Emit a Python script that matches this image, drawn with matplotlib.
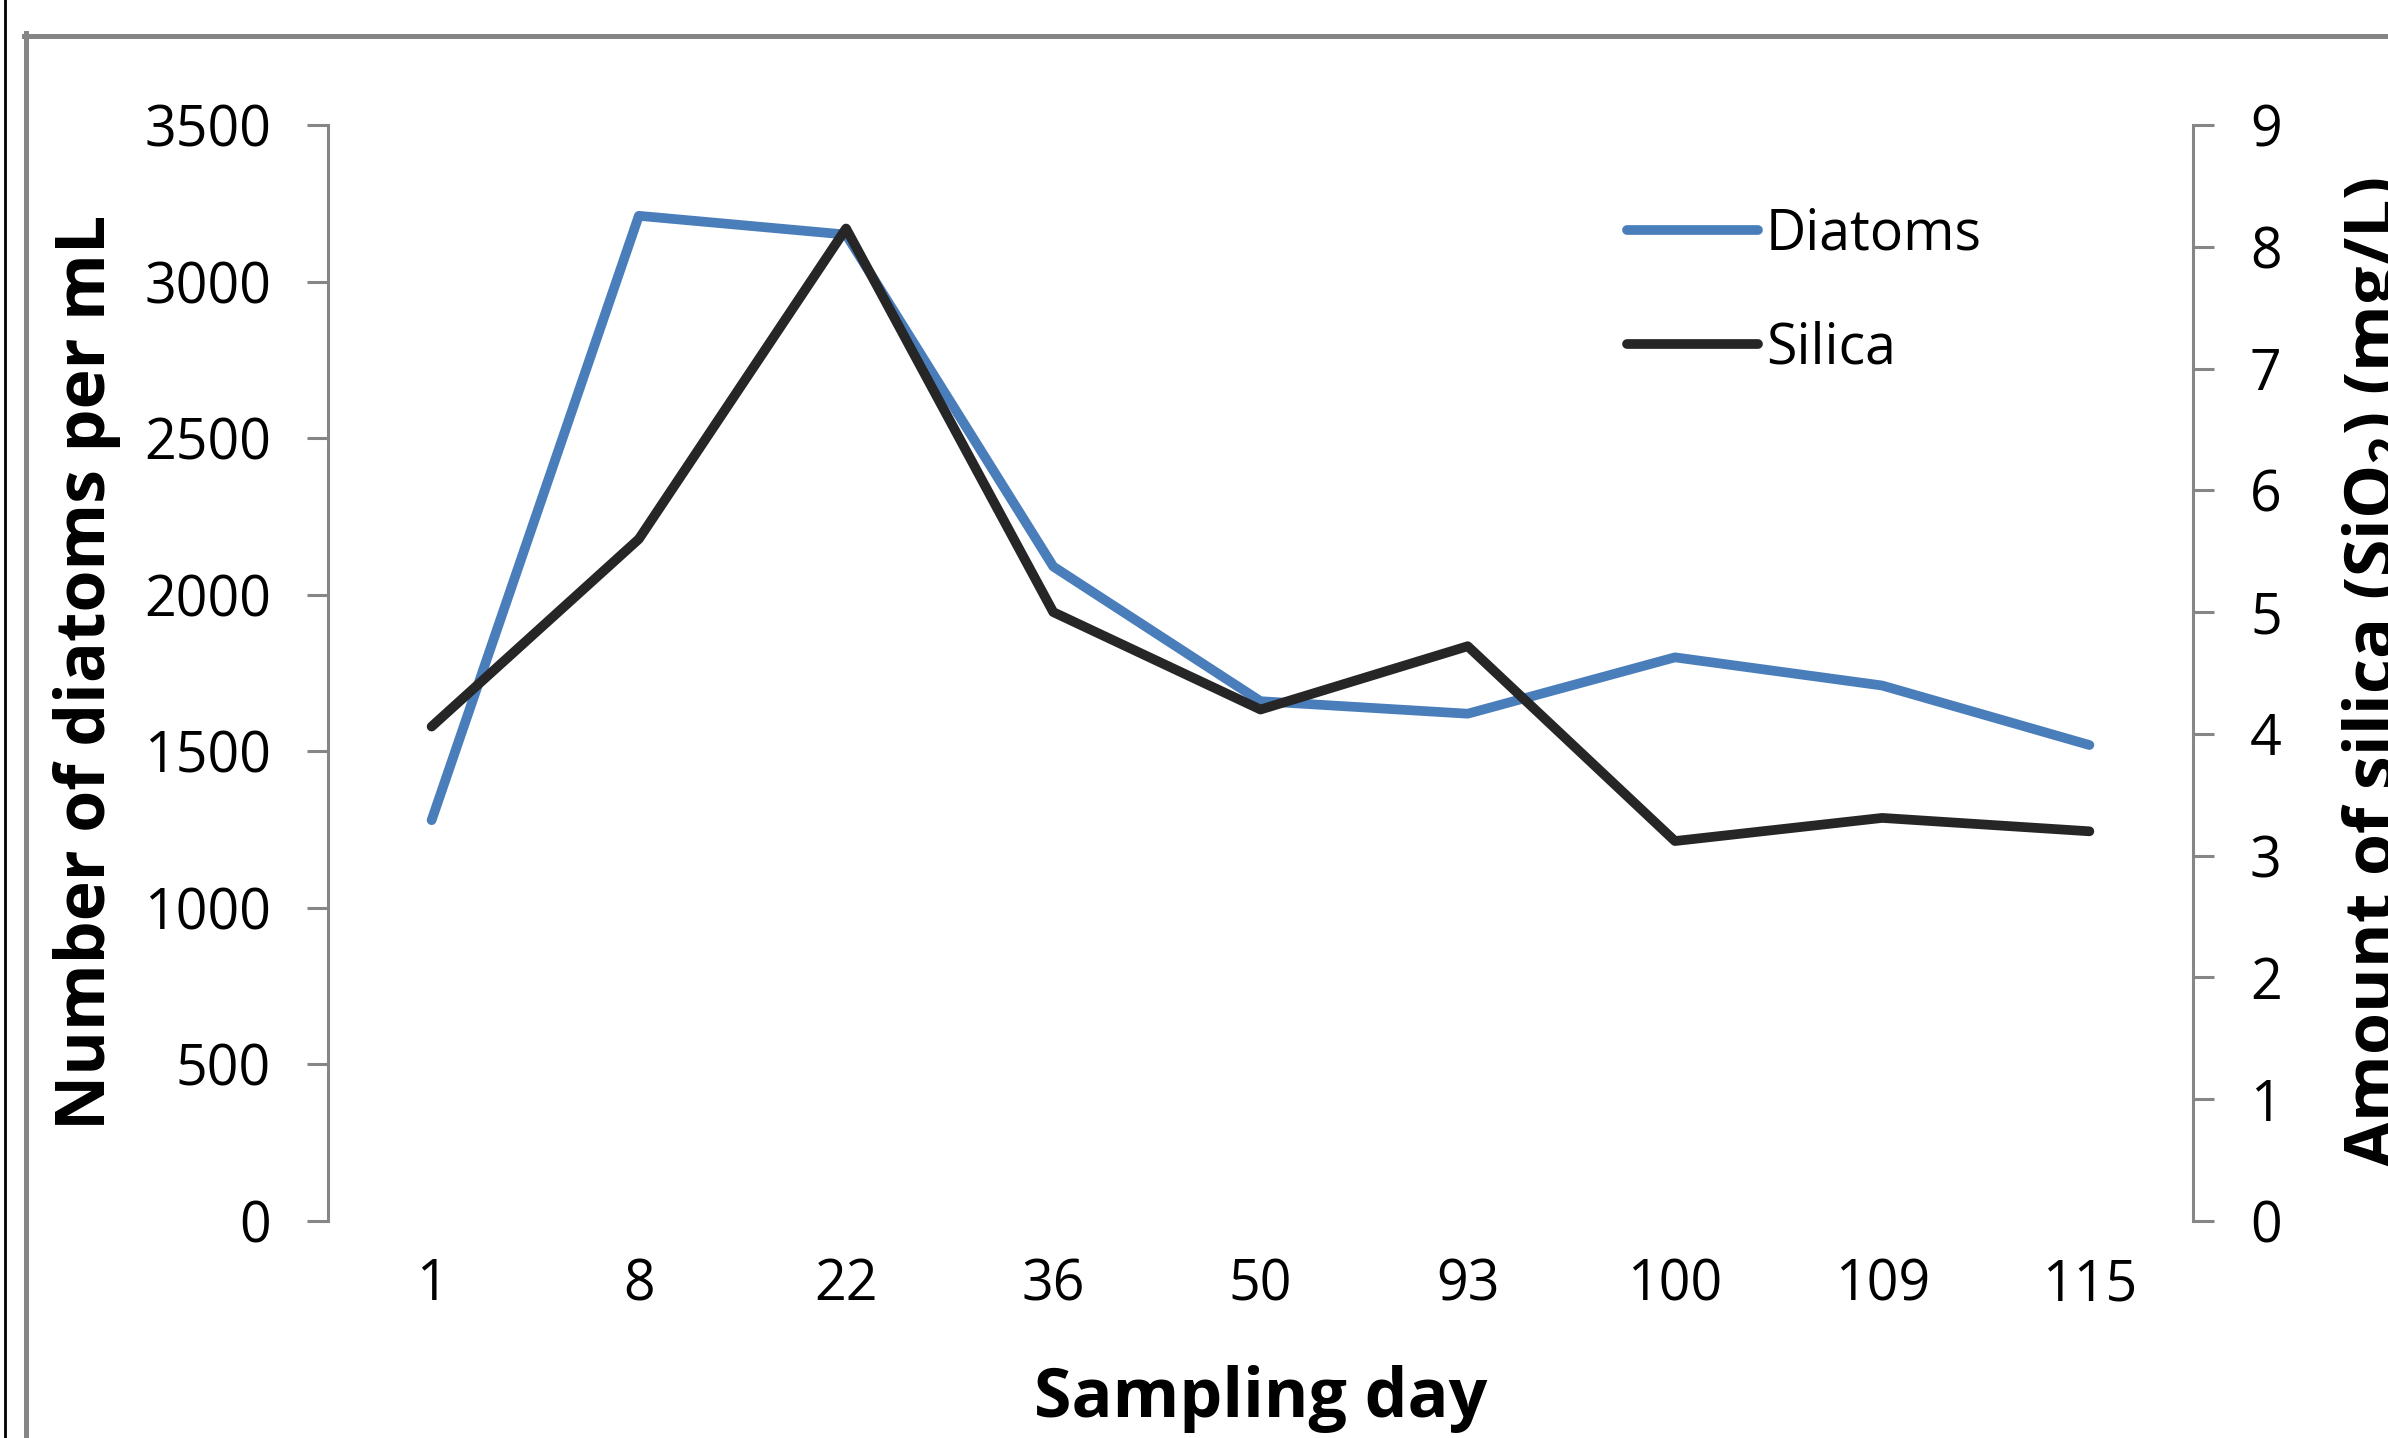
import matplotlib.pyplot as plt
from matplotlib.lines import Line2D

# data
days = ['1', '8', '22', '36', '50', '93', '100', '109', '115']
diatoms = [1280, 3210, 3150, 2090, 1660, 1620, 1800, 1710, 1520]
silica = [4.06, 5.6, 8.15, 5.0, 4.2, 4.72, 3.12, 3.31, 3.2]

plt.rcParams['font.family'] = ['Open Sans', 'DejaVu Sans']
plt.rcParams['mathtext.default'] = 'regular'

W, H = 2388, 1438
fig = plt.figure(figsize=(W / 100, H / 100), dpi=100)
fig.patch.set_facecolor('white')

# axes area in pixels
x0, x1 = 328, 2193
y0, y1 = 125, 1221
ax = fig.add_axes([x0 / W, 1 - y1 / H, (x1 - x0) / W, (y1 - y0) / H])
ax2 = ax.twinx()

grey = '#868686'
blue = '#4a7ebb'
dark = '#262626'

x = list(range(len(days)))
l1, = ax.plot(x, diatoms, color=blue, lw=7, solid_capstyle='round',
              solid_joinstyle='round', label='Diatoms')
l2, = ax2.plot(x, silica, color=dark, lw=7, solid_capstyle='round',
               solid_joinstyle='round', label='Silica')

ax.set_xlim(-0.5, len(days) - 0.5)
ax.set_ylim(0, 3500)
ax.set_yticks(range(0, 3501, 500))
ax2.set_ylim(0, 9)
ax2.set_yticks(range(0, 10))
ax.set_xticks(x)
ax.set_xticklabels(days)

for a in (ax, ax2):
    for s in ('top', 'bottom'):
        a.spines[s].set_visible(False)
    a.spines['left'].set_color(grey)
    a.spines['right'].set_color(grey)
    a.spines['left'].set_linewidth(2.2)
    a.spines['right'].set_linewidth(2.2)
    a.patch.set_visible(False)

ax.spines['right'].set_visible(False)
ax2.spines['left'].set_visible(False)

ax.tick_params(axis='y', direction='out', length=15, width=2.2, color=grey,
               labelsize=40, pad=26)
ax2.tick_params(axis='y', direction='out', length=15, width=2.2, color=grey,
                labelsize=40, pad=26)
ax.tick_params(axis='x', length=0, labelsize=40, pad=26)

# axis titles
fig.text(105 / W, 1 - 672 / H, 'Number of diatoms per mL', rotation=90,
         rotation_mode='anchor', ha='center', va='baseline',
         fontsize=49, fontweight='bold')
fig.text(2394 / W, 1 - 672 / H, 'Amount of silica (SiO$_2$) (mg/L)', rotation=90,
         rotation_mode='anchor', ha='center', va='baseline',
         fontsize=49, fontweight='bold')
fig.text((x0 + x1) / 2 / W, 1 - 1417 / H, 'Sampling day', ha='center',
         va='baseline', fontsize=49, fontweight='bold')

leg = ax2.legend(handles=[l1, l2], loc='upper left',
                 bbox_to_anchor=(1627 / W, 1 - 206 / H),
                 bbox_transform=fig.transFigure, frameon=False, fontsize=40,
                 handlelength=2.35, handletextpad=0.15, labelspacing=1.04,
                 borderpad=0, borderaxespad=0)

# chart border (grey) and outer black edge
fig.add_artist(Line2D([25.5 / W, 25.5 / W], [0, 1 - 33 / H], color=grey, lw=3.6,
                      transform=fig.transFigure))
fig.add_artist(Line2D([24 / W, 1], [1 - 35.5 / H, 1 - 35.5 / H], color=grey, lw=3.6,
                      transform=fig.transFigure))
fig.add_artist(Line2D([4.5 / W, 4.5 / W], [0, 1], color='black', lw=2,
                      transform=fig.transFigure))

fig.savefig('out.png', dpi=100)
